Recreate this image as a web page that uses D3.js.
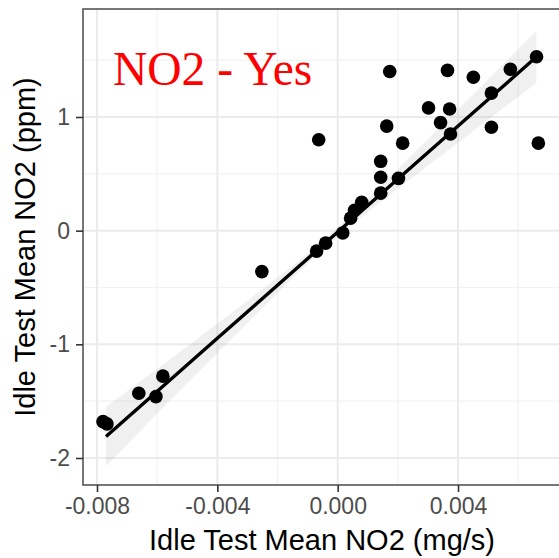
<!DOCTYPE html>
<html>
<head>
<meta charset="utf-8">
<script src="https://cdn.jsdelivr.net/npm/d3@7"></script>
<style>
  body { margin: 0; background: #fff; }
  svg { display: block; }
</style>
</head>
<body>
<div class="chart"></div>
<script>
// data
var idleMgs = [-0.00063, 0.00173, 0.00365, 0.00451, 0.00574, 0.00661, 0.00511, 0.00302,
  0.00372, 0.00342, 0.00375, 0.00163, 0.00216, 0.00511, 0.00667, 0.00143, 0.00143,
  0.00202, 0.00143, 0.0008, 0.00056, 0.00043, 0.00017, -0.0004, -0.0007, -0.00252,
  -0.00581, -0.00661, -0.00604, -0.00767, -0.0078];
var idlePpm = [0.80, 1.40, 1.41, 1.35, 1.42, 1.53, 1.21, 1.08,
  1.07, 0.95, 0.85, 0.92, 0.77, 0.91, 0.77, 0.61, 0.47,
  0.46, 0.33, 0.25, 0.18, 0.11, -0.02, -0.11, -0.18, -0.36,
  -1.28, -1.43, -1.46, -1.70, -1.68];
// fitted line and its band, read at a few x positions
var fitX = [-0.0077, -0.004, -0.0003, 0.003, 0.0066];
var fitY = [-1.81, -0.947, -0.083, 0.687, 1.527];
var fitHalf = [0.26, 0.13, 0.04, 0.117, 0.23];
var xTicks = [-0.008, -0.004, 0.000, 0.004];
var xMinor = [-0.006, -0.002, 0.002, 0.006];
var yTicks = [-2, -1, 0, 1];
var yMinor = [-1.5, -0.5, 0.5, 1.5];
var panelTitle = "NO2 - Yes";

var svgWidth = 559, svgHeight = 558;
var panel = { left: 83, top: 9, right: 561, bottom: 485 };

var svg = d3.select(".chart").append("svg")
  .attr("width", svgWidth)
  .attr("height", svgHeight);

var x = d3.scaleLinear().domain([-0.008465, 0.007423]).range([panel.left, panel.right]);
var y = d3.scaleLinear().domain([-2.2375, 1.950]).range([panel.bottom, panel.top]);

var points = idleMgs.map(function(d, i) { return { x: d, y: idlePpm[i] }; });
var fit = fitX.map(function(d, i) {
  return { x: d, y: fitY[i], lo: fitY[i] - fitHalf[i], hi: fitY[i] + fitHalf[i] };
});

// grid
var grid = svg.append("g");
grid.selectAll(".xminor").data(xMinor).enter().append("line")
  .attr("x1", d => x(d)).attr("x2", d => x(d))
  .attr("y1", panel.top).attr("y2", panel.bottom)
  .attr("stroke", "#f2f2f2").attr("stroke-width", 1.2);
grid.selectAll(".yminor").data(yMinor).enter().append("line")
  .attr("x1", panel.left).attr("x2", panel.right)
  .attr("y1", d => y(d)).attr("y2", d => y(d))
  .attr("stroke", "#f2f2f2").attr("stroke-width", 1.2);
grid.selectAll(".xmajor").data(xTicks).enter().append("line")
  .attr("x1", d => x(d)).attr("x2", d => x(d))
  .attr("y1", panel.top).attr("y2", panel.bottom)
  .attr("stroke", "#ebebeb").attr("stroke-width", 2);
grid.selectAll(".ymajor").data(yTicks).enter().append("line")
  .attr("x1", panel.left).attr("x2", panel.right)
  .attr("y1", d => y(d)).attr("y2", d => y(d))
  .attr("stroke", "#ebebeb").attr("stroke-width", 2);

// band, points, line
svg.append("path").datum(fit)
  .attr("d", d3.area().curve(d3.curveMonotoneX).x(d => x(d.x)).y0(d => y(d.lo)).y1(d => y(d.hi)))
  .attr("fill", "#999999").attr("fill-opacity", 0.15);

svg.selectAll(".pt").data(points).enter().append("circle")
  .attr("cx", d => x(d.x)).attr("cy", d => y(d.y))
  .attr("r", 6.8).attr("fill", "#000");

svg.append("path").datum(fit)
  .attr("d", d3.line().x(d => x(d.x)).y(d => y(d.y)))
  .attr("fill", "none").attr("stroke", "#000").attr("stroke-width", 3.4);

// panel border
svg.append("rect")
  .attr("x", panel.left).attr("y", panel.top)
  .attr("width", panel.right - panel.left).attr("height", panel.bottom - panel.top)
  .attr("fill", "none").attr("stroke", "#555").attr("stroke-width", 1.6);

// axes
var bottomAxis = d3.axisBottom(x).tickValues(xTicks).tickSize(7).tickPadding(6);
var leftAxis = d3.axisLeft(y).tickValues(yTicks).tickSize(7).tickPadding(6);

var gx = svg.append("g").attr("transform", `translate(0, ${panel.bottom})`).call(bottomAxis);
var gy = svg.append("g").attr("transform", `translate(${panel.left}, 0)`).call(leftAxis);
[gx, gy].forEach(function(g) {
  g.select(".domain").remove();
  g.selectAll("line").attr("stroke", "#333").attr("stroke-width", 1.6);
  g.selectAll("text").attr("fill", "#4d4d4d")
    .style("font-family", "'Liberation Sans', Arial, sans-serif").style("font-size", "23px");
});
gx.selectAll("text").text(d => d3.format(".3f")(d).replace("−", "-"));
gy.selectAll("text").text(d => String(d).replace("−", "-"));

// axis titles
svg.append("text")
  .attr("x", (panel.left + panel.right) / 2).attr("y", 550)
  .attr("text-anchor", "middle")
  .style("font-family", "'Liberation Sans', Arial, sans-serif").style("font-size", "29px")
  .attr("fill", "#000")
  .text("Idle Test Mean NO2 (mg/s)");

svg.append("text")
  .attr("transform", `translate(35, ${(panel.top + panel.bottom) / 2}) rotate(-90)`)
  .attr("text-anchor", "middle")
  .style("font-family", "'Liberation Sans', Arial, sans-serif").style("font-size", "29px")
  .attr("fill", "#000")
  .text("Idle Test Mean NO2 (ppm)");

// panel label
svg.append("text")
  .attr("x", 113).attr("y", 85)
  .style("font-family", "'Liberation Serif', 'Times New Roman', serif").style("font-size", "47.5px")
  .attr("fill", "#ff0000")
  .text(panelTitle);
</script>
</body>
</html>
